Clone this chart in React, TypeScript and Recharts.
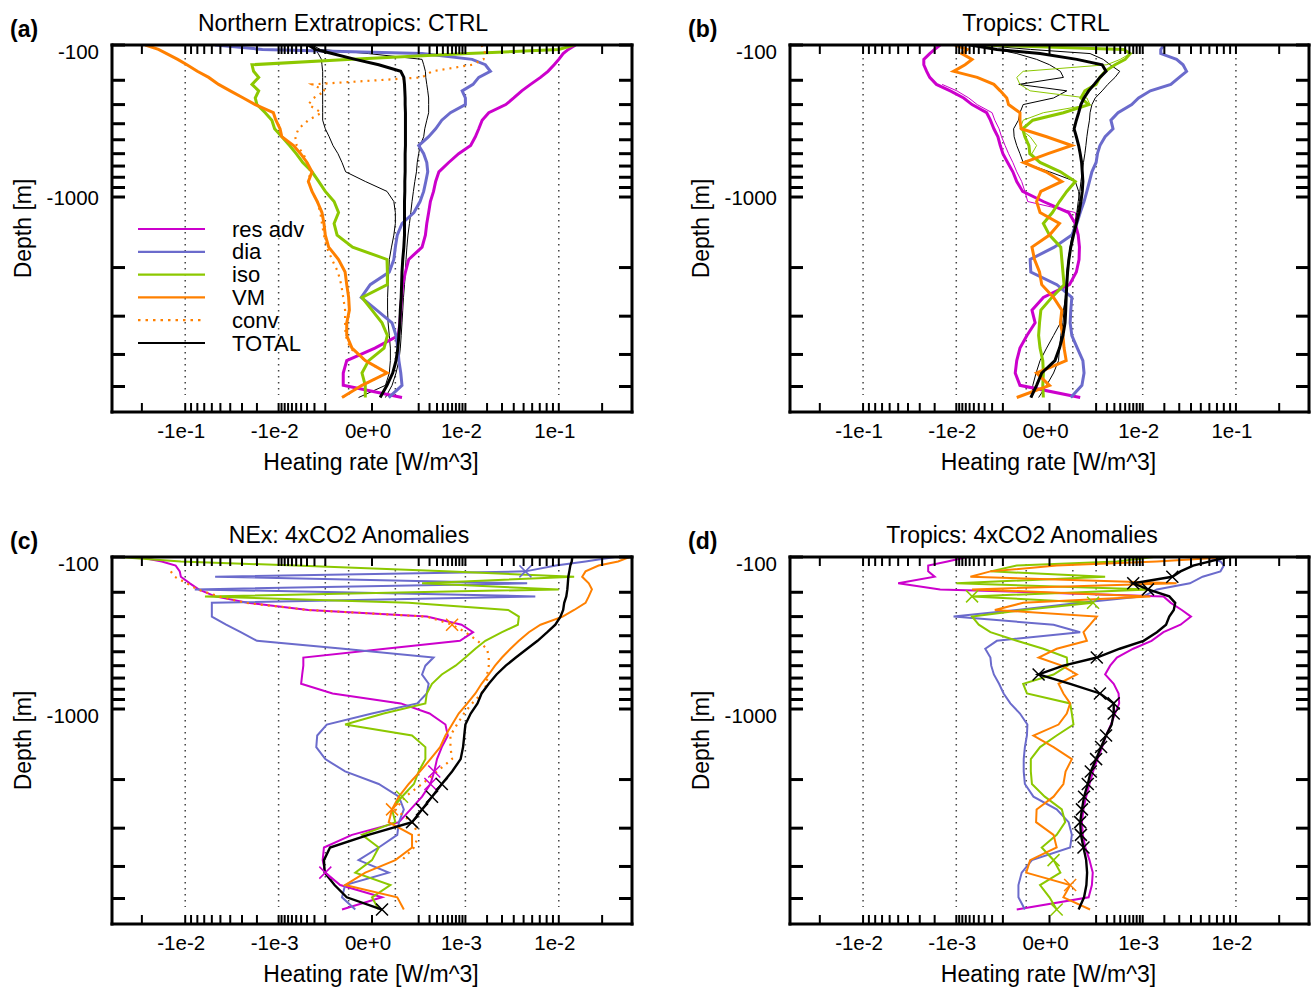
import React from 'react';
import { LineChart, Line, XAxis, YAxis, ReferenceLine } from 'recharts';

const FONT = '"Liberation Sans", Arial, Helvetica, sans-serif';
// both axes use a |v|^log10(2) stretch (one decade = factor 2 in distance)
const P = Math.log10(2);
const pw = (v: number | null | undefined) => (v == null ? null : Math.sign(v) * Math.pow(Math.abs(v), P));

// model levels [m]
const depths = [
  100, 110, 120, 135, 150, 170, 190, 215, 240, 270,
  300, 340, 380, 430, 480, 540, 600, 670, 750, 840,
  940, 1050, 1180, 1320, 1480, 1660, 1860, 2080, 2320, 2580,
  2860, 3160, 3480, 3820, 4180, 4560, 4960, 5380,
];
const depthTicks = [100, 200, 300, 400, 500, 600, 700, 800, 900, 1000, 2000, 3000, 4000, 5000];
const depthLabels = [{ v: 100, t: '-100' }, { v: 1000, t: '-1000' }];
const depthBottom = 5910;
const gridTop = 116;
const gridBottom = 5290;

const ctrlLabels = [
  { v: -0.1, t: '-1e-1' }, { v: -0.01, t: '-1e-2' }, { v: 0, t: '0e+0' }, { v: 0.01, t: '1e-2' }, { v: 0.1, t: '1e-1' },
];
const anomLabels = [
  { v: -0.01, t: '-1e-2' }, { v: -0.001, t: '-1e-3' }, { v: 0, t: '0e+0' }, { v: 0.001, t: '1e-3' }, { v: 0.01, t: '1e-2' },
];
const mantissas = [1, 2, 3, 4, 5, 6, 7, 8, 9];
const gridValues = [-1e-1, -1e-2, -1e-3, -1e-4, 1e-4, 1e-3, 1e-2, 1e-1];

const C_RES = '#cc00cc';
const C_DIA = '#6b6bcc';
const C_ISO = '#8cc800';
const C_VM = '#ff8000';
const C_TOT = '#000000';

// ---- (a) Northern Extratropics: CTRL  [W/m^3]
const aResAdv = [
  0.133, 0.118, 0.108, 0.1, 0.092, 0.082, 0.071, 0.058, 0.048, 0.04,
  0.033, 0.021, 0.0173, 0.0156, 0.014, 0.012, 0.0078, 0.0052, 0.0033, 0.0028,
  0.0025, 0.0021, 0.0019, 0.0017, 0.00156, 0.00126, 0.00045, 0.00033, 0.00025, 0.00022,
  0.0002, 0.00018, 0.00015, 0.0000001, -0.00013, -0.0002, -0.0002, 0.00023,
];
const aDia = [
  -0.056, -0.017, 0.00126, 0.0126, 0.019, 0.022, 0.0156, 0.013, 0.0089, 0.01,
  0.01, 0.0056, 0.0038, 0.0028, 0.0019, 0.001, 0.0014, 0.0017, 0.0018, 0.0016,
  0.0014, 0.0011, 0.0007, 0.00023, 0.00013, 0.0001, 0.00008, 0.000037, -0.00000002, -0.0000076,
  0.0000005, 0.00006, 0.00011, 0.00014, 0.00016, 0.0002, 0.00023, 0.000033,
];
const aIso = [
  0.13, 0.1, 0.011, -0.00006, -0.023, -0.022, -0.019, -0.023, -0.019, -0.021,
  -0.02, -0.0156, -0.0126, -0.0115, -0.0089, -0.0066, -0.005, -0.0037, -0.0023, -0.00156,
  -0.001, -0.0005, -0.00033, -0.0005, -0.00038, -0.000054, 0.000023, 0.000025, 0.000025, -0.000006,
  0, 0.000006, 0.000025, 0.000011, -0.00000016, -0.000006, -0.0000016, -0.0000016,
];
const aVm = [
  -0.19, -0.156, -0.137, -0.114, -0.097, -0.08, -0.064, -0.052, -0.04, -0.029,
  -0.021, -0.012, -0.011, -0.0095, -0.0089, -0.0056, -0.0041, -0.003, -0.0023, -0.0028,
  -0.0023, -0.0017, -0.00126, -0.0011, -0.001, -0.00078, -0.00033, -0.00016, -0.00013, -0.0001,
  -0.00009, -0.00013, -0.00013, -0.00006, -0.0000016, 0.000023, -0.000006, -0.00023,
];
const aConv = [
  0.017, 0.018, 0.019, 0.018, 0.0126, 0.0023, 0.00126, -0.0023, -0.001, -0.0021,
  -0.0028, -0.0013, -0.0028, -0.0045, -0.0052, -0.0049, -0.0036, -0.003, -0.0025, -0.0028,
  -0.0023, -0.0017, -0.0014, -0.00126, -0.0011, -0.0009, -0.0006, -0.00035, -0.00025, -0.0002,
  -0.00016, -0.00016, -0.00015, -0.00008, -0.0000016, 0.000023, -0.000006, -0.00023,
];
const aTotal = [
  -0.0028, -0.0019, -0.0006, -0.000033, 0.0000016, 0.0002, 0.00028, 0.0003, 0.00031, 0.00032,
  0.00032, 0.00033, 0.00033, 0.00033, 0.00033, 0.00033, 0.00032, 0.00032, 0.00032, 0.00031,
  0.00031, 0.0003, 0.0003, 0.0003, 0.0003, 0.00028, 0.00025, 0.00023, 0.00022, 0.00021,
  0.00019, 0.00018, 0.00016, 0.00014, 0.00011, 0.000067, 0.000023, 0.000003,
];
const aTotalThin1 = [
  -0.0023, -0.0019, -0.0016, -0.0013, -0.00126, -0.0012, -0.0012, -0.0012, -0.0012, -0.0012,
  -0.0012, -0.0012, -0.0012, -0.001, -0.00075, -0.00055, -0.00035, -0.00023, -0.00015, -0.0000016,
  0.000023, 0.00008, 0.0001, 0.0001, 0.00008, 0.000055, 0.000037, 0.000033, 0.000029, 0.000026,
  0.000026, 0.000029, 0.000037, 0.000045, 0.000045, 0.000037, 0.000016, -0.000016,
];
const aTotalThin2 = [
  -0.0023, -0.0014, -0.0000002, 0.00126, 0.0014, 0.00156, 0.0016, 0.0017, 0.0018, 0.0019,
  0.0019, 0.0019, 0.0017, 0.0015, 0.0014, 0.0011, 0.001, 0.0009, 0.00085, 0.00075,
  0.00067, 0.0006, 0.00054, 0.00048, 0.00042, 0.00038, 0.00035, 0.00033, 0.0003, 0.00027,
  0.00025, 0.00023, 0.00021, 0.00019, 0.00016, 0.00011, 0.00006, 0.000016,
];

// ---- (b) Tropics: CTRL
const bResAdv = [
  -0.017, -0.02, -0.023, -0.027, -0.027, -0.025, -0.023, -0.019, -0.0123, -0.0076,
  -0.0054, -0.0027, -0.0022, -0.0018, -0.0014, -0.0012, -0.001, -0.0007, -0.00045, -0.00031,
  -0.00016, -0.0000012, 0.000052, 0.00014, 0.0002, 0.00023, 0.00022, 0.00016, 0.00006, -0.0000012,
  -0.000039, -0.00002, -0.00009, -0.00022, -0.00031, -0.00036, -0.00022, 0.00025,
];
const bResAdvThin = [
  null, null, null, null, null, null, null, -0.016, -0.0098, -0.0062,
  -0.0043, -0.002, -0.0017, -0.0013, -0.0011, -0.00085, -0.00065, -0.00045, -0.00031, -0.00018,
  -0.00012, -0.00008, 0.00014, 0.00017, null, null, null, null, null, null,
  null, null, null, null, null, null, null, null,
];
const bDia = [
  0.02, 0.018, 0.018, 0.028, 0.033, 0.036, 0.03, 0.024, 0.013, 0.0086,
  0.0066, 0.0036, 0.0025, 0.0028, 0.0018, 0.0013, 0.0011, 0.001, 0.00073, 0.0006,
  0.00048, 0.00037, 0.00025, 0.00017, 0.000087, 0.0000005, -0.000054, -0.000048, 0.0000022, 0.000087,
  0.000074, 0.000067, 0.000087, 0.00018, 0.00033, 0.00037, 0.0003, 0.000074,
];
const bIso = [
  -0.0033, 0.0047, 0.0062, 0.005, 0.0031, 0.0018, 0.0013, 0.001, 0.0004, 0.00027,
  0.00056, 0.000018, -0.000033, -0.00016, -0.00012, -0.000066, -0.000057, -0.000005, 0.000008, 0.00014,
  0.000037, 0.000006, 0.0000001, -0.0000012, 0, 0.000009, 0.000012, 0.000016, 0.000021, 0.00000005,
  -0.0000037, -0.000006, -0.000008, -0.000005, -0.0000016, -0.0000012, -0.0000016, -0.0000012,
];
const bIsoThin = [
  -0.0033, 0.0047, 0.0062, 0.004, 0.002, -0.00015, -0.00031, -0.00022, -0.000054, 0.00048,
  0.00063, -0.0000012, -0.00015, -0.00022, -0.000054, -0.000014, -0.000039, -0.000005, null, null,
  null, null, null, null, null, null, null, null, null, null,
  null, null, null, null, null, null, null, null,
];
const bVm = [
  -0.0105, -0.0066, -0.0082, -0.0054, -0.0072, -0.011, -0.0043, -0.0018, -0.0012, -0.00075,
  -0.00065, -0.00022, -0.00022, -0.00019, -0.0000001, 0.000087, -0.00000001, -0.00014, -0.0000002, 0.000012,
  -0.0000037, -0.000014, -0.000005, 0.000006, 0, -0.000039, -0.000023, -0.000006, -0.0000026, 0.0000003,
  0.000012, 0.000008, 0.000016, 0.000021, 0.000033, -0.000014, 0, -0.00031,
];
const bTotal = [
  -0.0058, -0.0015, -0.000005, 0.00017, 0.0015, 0.0019, 0.0013, 0.00087, 0.00056, 0.00037,
  0.00027, 0.00021, 0.00016, 0.00012, 0.00016, 0.00021, 0.00025, 0.00029, 0.00031, 0.00033,
  0.00031, 0.00027, 0.00022, 0.00016, 0.00011, 0.000074, 0.000054, 0.000043, 0.000037, 0.000033,
  0.00003, 0.000026, 0.000016, 0.000006, 0.0000008, -0.0000026, -0.000014, -0.000048,
];
const bTotalThin1 = [
  -0.0043, -0.00005, 0.00063, 0.0016, 0.0024, 0.0039, 0.0031, 0.0021, 0.0015, 0.00094,
  0.00073, 0.00063, 0.0006, 0.00053, 0.00048, 0.00044, 0.0004, 0.00035, 0.00031, 0.00027,
  0.00024, 0.0002, 0.00017, 0.000125, 0.00009, 0.000067, 0.00005, 0.000037, 0.000033, 0.000027,
  0.000021, 0.000016, 0.000009, 0.000006, 0.0000043, 0.0000003, -0.0000001, -0.000008,
];
const bTotalThin2 = [
  -0.0058, -0.0015, -0.00031, -0.000014, 0, 0.000008, 0.000018, -0.00025, 0.000037, 0.0000003,
  -0.00015, -0.00022, -0.00026, -0.00042, -0.0004, -0.00031, -0.00022, -0.00015, 0, 0.00014,
  0.00021, 0.00023, 0.00018, 0.00014, 0.0001, 0.000074, 0.000056, 0.000046, 0.000037, 0.00003,
  0.000018, 0.000008, 0.0000003, -0.0000001, -0.000005, -0.000016, -0.000033, -0.000039,
];

// ---- (c) NEx: 4xCO2 Anomalies
const cResAdv = [
  -0.021, -0.0148, -0.0118, -0.011, -0.0108, -0.0092, -0.0078, -0.0056, -0.0026, -0.00028,
  0.00017, 0.00087, 0.0013, 0.00082, 0.0000015, -0.00036, -0.00036, -0.00038, -0.0004, -0.000057,
  0.00002, 0.0002, 0.00045, 0.0005, 0.00038, 0.0003, 0.00026, 0.00021, 0.000126, 0.000053,
  0.000016, -0.000006, -0.00011, -0.00012, -0.0001, -0.000028, 0.0000006, -0.000023,
];
const cDia = [
  0.024, 0.0156, 0.0095, 0.0052, -0.0056, 0.0054, -0.0084, 0.0064, -0.006, -0.006,
  -0.006, -0.0044, -0.0031, -0.002, -0.00002, 0.00025, 0.000156, 0.000126, 0.00019, 0.00017,
  0.00009, 0, -0.00009, -0.00017, -0.00018, -0.0001, -0.000016, 0.00000016, 0.000016, 0.000028,
  0.000016, 0.000013, 0.00000016, -0.0000016, 0.0000033, -0.000016, -0.000023, -0.0000033,
];
const cIso = [
  -0.0275, -0.0108, -0.00052, 0.00045, 0.013, 0.000126, 0.01, -0.0069, 0.000045, 0.0035,
  0.0045, 0.0044, 0.003, 0.0019, 0.0014, 0.001, 0.00069, 0.00038, 0.00023, 0.00017,
  0.000156, 0.000001, -0.000016, 0.00006, 0.000156, 0.000156, 0.0001, 0.00007, 0.000023, 0.000006,
  0.00001, -0.0000006, 0.00000016, 0, -0.0000033, 0.0000045, 0, 0.00000016,
];
const cVm = [
  0.029, 0.025, 0.019, 0.0156, 0.0148, 0.0164, 0.0172, 0.0164, 0.0156, 0.013,
  0.0107, 0.0071, 0.0056, 0.0045, 0.0037, 0.003, 0.0025, 0.0021, 0.0017, 0.0014,
  0.00107, 0.00078, 0.0006, 0.00045, 0.00035, 0.00021, 0.00011, 0.000045, 0.000016, 0.000006,
  0.0000033, 0.00006, 0.00006, 0.00001, -0.00000016, -0.000016, 0.000013, 0.000028,
];
const cConv = [
  null, null, null, -0.0128, -0.012, -0.0097, -0.008, -0.0052, -0.00275, -0.00028,
  0.00017, 0.0006, 0.001, 0.0015, 0.002, 0.0021, 0.0021, 0.002, 0.002, 0.0017,
  0.00126, 0.00095, 0.00073, 0.00056, 0.00056, 0.0006, 0.0003, 0.000126, 0.000033, 0.00001,
  0.00006, 0.0001, 0.00007, 0.000023, null, null, null, null,
];
const cTotal = [
  0.0126, 0.0125, 0.0122, 0.012, 0.0118, 0.0117, 0.0116, 0.0114, 0.011, 0.0108,
  0.0103, 0.0094, 0.0081, 0.0067, 0.0054, 0.0042, 0.0033, 0.0026, 0.0021, 0.0017,
  0.0015, 0.0012, 0.001, 0.00096, 0.00092, 0.00084, 0.0006, 0.00038, 0.00023, 0.000126,
  0.00006, -0.00000002, -0.00007, -0.00011, -0.000105, -0.000048, -0.000013, 0.0000006,
];
// levels flagged with a cross
const cTotalMarks = [27, 28, 29, 30, 37];
const cResAdvMarks = [26, 27, 34];
const cVmMarks = [29];
const cConvMarks = [8];
const cDiaMarks = [3];
const cIsoMarks = [28];

// ---- (d) Tropics: 4xCO2 Anomalies
const dResAdv = [
  -0.00066, -0.00135, -0.0024, -0.0024, -0.002, -0.005, -0.0017, 0.00195, 0.0024, 0.0032,
  0.004, 0.0031, 0.00195, 0.00135, 0.0007, 0.00034, 0.00024, 0.00018, 0.00029, 0.00037,
  0.00038, 0.00031, 0.00025, 0.00019, 0.00015, 0.00011, 0.00008, 0.00006, 0.000045, 0.000035,
  0.00003, 0.000033, 0.000042, 0.00006, 0.000078, 0.000073, 0.000056, -0.000031,
];
const dDia = [
  0.0056, 0.0075, 0.008, 0.0075, 0.0052, 0.0039, 0.0016, 0.00103, 0.000025, -0.000031,
  -0.0011, 0.00000003, 0.000025, -0.00015, -0.00029, -0.00022, -0.00021, -0.00018, -0.00013, -0.000095,
  -0.000056, -0.000022, -0.0000084, -0.000009, -0.000012, -0.000014, -0.000014, -0.000012, -0.0000029, 0.0000002,
  0.0000052, 0.0000087, 0.0000067, -0.0000039, -0.000018, -0.000026, -0.000026, -0.000012,
];
const dIso = [
  0.00145, 0.00034, -0.000031, -0.00022, 0.00018, -0.001, 0.0013, -0.00054, 0.00008, -0.000015,
  -0.00054, -0.0004, -0.00022, -0.000031, -0.00000012, 0.0000037, 0.0000043, 0.00000003, -0.000015, -0.000009,
  0.0000067, 0.0000087, 0.000011, 0.0000002, -0.0000005, -0.0000048, -0.0000048, -0.0000039, -0.00000005, 0.0000012,
  0.0000027, 0.0000002, -0.00000026, 0.00000003, 0.0000008, -0.0000005, 0, 0.0000002,
];
const dVm = [
  0.0091, 0.0016, 0.0000002, -0.00022, -0.00058, 0.0028, -0.00054, 0.0013, -0.000015, -0.00017,
  0.000105, 0.000063, 0.000035, 0.000048, 0.0000002, -0.0000008, 0.0000012, 0.000017, 0.00000043, 0.0000018,
  0.0000067, 0.0000037, 0.00000043, -0.0000029, 0.00000003, 0.0000087, 0.0000029, 0.0000018, 0.00000003, -0.0000014,
  -0.0000016, 0.00000003, 0.0000002, -0.0000054, -0.00001, 0.0000067, 0.0000018, 0.000063,
];
const dTotal = [
  0.0086, 0.0061, 0.0042, 0.0031, 0.0025, 0.0007, 0.0012, 0.0023, 0.0027, 0.0026,
  0.0023, 0.0021, 0.0016, 0.00103, 0.00039, 0.000105, 0.0000018, -0.0000008, 0.0000067, 0.00013,
  0.00029, 0.00029, 0.00026, 0.00019, 0.00014, 0.0001, 0.000067, 0.000052, 0.000037, 0.00003,
  0.000025, 0.000027, 0.000035, 0.000045, 0.000049, 0.000046, 0.000037, 0.000021,
];
const dTotalMarks = [4, 5, 6, 15, 17, 19, 20, 21, 23, 24, 25, 26, 27, 28, 29, 30, 31, 32];
const dIsoMarks = [7, 8, 33, 37];
const dVmMarks = [35];

type Series = { key: string; data: (number | null)[]; color: string; width: number; dash?: string; marks?: number[] };
type Label = { v: number; t: string };

const PLOT_H = 367;
const TICK_FONT = 20.5;
const frame = { stroke: '#000', strokeWidth: 3, strokeLinecap: 'square' as const };

function heatTicks(scale: number) {
  const pos = [
    ...mantissas.map((m) => m * 1e-3 * scale),
    ...mantissas.map((m) => m * 1e-2 * scale),
    0.1 * scale,
    0.2 * scale,
  ];
  return [...pos.map((v) => -v).reverse(), 0, ...pos];
}

const same = (a: number, b: number) => Math.abs(a - b) < 1e-9;

function xTick(labels: Label[], side: 'top' | 'bottom') {
  return (p: any) => {
    const { x, y, payload } = p;
    const lab = side === 'bottom' ? labels.find((l) => same(pw(l.v)!, payload.value)) : undefined;
    const y2 = side === 'bottom' ? y - 9 : y + 9;
    return (
      <g>
        <line x1={x} y1={y} x2={x} y2={y2} stroke="#000" strokeWidth={2} />
        {lab && (
          <text x={x - 4} y={y + 26} textAnchor="middle" fontSize={TICK_FONT} fontFamily={FONT} fill="#000">
            {lab.t}
          </text>
        )}
      </g>
    );
  };
}

function yTick(side: 'left' | 'right', top: number) {
  return (p: any) => {
    const { x, y, payload } = p;
    const lab = side === 'left' ? depthLabels.find((l) => same(pw(l.v)!, payload.value)) : undefined;
    const x2 = side === 'left' ? x + 13 : x - 13;
    return (
      <g>
        <line x1={x} y1={y} x2={x2} y2={y} stroke="#000" strokeWidth={3} />
        {lab && (
          <text x={x - 13} y={y < top + 5 ? y + 14 : y + 8} textAnchor="end" fontSize={TICK_FONT} fontFamily={FONT} fill="#000">
            {lab.t}
          </text>
        )}
      </g>
    );
  };
}

function crossDot(color: string, marks: number[]) {
  return (p: any) => {
    const { cx, cy, index } = p;
    if (!marks.includes(index) || cx == null || cy == null) return <g key={`n${index}`} />;
    const r = 6;
    return (
      <path
        key={`m${index}`}
        d={`M${cx - r},${cy - r}L${cx + r},${cy + r}M${cx - r},${cy + r}L${cx + r},${cy - r}`}
        stroke={color}
        strokeWidth={1.5}
        fill="none"
      />
    );
  };
}

function Panel({ x, y, w, scale, labels, series }: { x: number; y: number; w: number; scale: number; labels: Label[]; series: Series[] }) {
  const xMax = pw(0.3 * scale)!;
  const rows = depths.map((d, i) => {
    const r: Record<string, number | null> = { y: pw(d) };
    series.forEach((s) => {
      r[s.key] = pw(s.data[i]);
    });
    return r;
  });
  const ticks = heatTicks(scale).map((v) => pw(v)!);
  const yDomain = [pw(100)!, pw(depthBottom)!];
  const yTicks = depthTicks.map((d) => pw(d)!);
  // axes are 1px thick so they get drawn; margins absorb that pixel
  return (
    <div style={{ position: 'absolute', left: x - 112, top: y - 45 }}>
      <LineChart
        width={112 + w + 3}
        height={45 + PLOT_H + 40}
        data={rows}
        layout="vertical"
        margin={{ top: 44, left: 111, right: 2, bottom: 39 }}
      >
        <XAxis xAxisId="b" type="number" domain={[-xMax, xMax]} ticks={ticks} interval={0} allowDataOverflow
          height={1} tickSize={0} tickMargin={0} tickLine={false} axisLine={frame} tick={xTick(labels, 'bottom')} />
        <XAxis xAxisId="t" orientation="top" type="number" domain={[-xMax, xMax]} ticks={ticks} interval={0} allowDataOverflow
          height={1} tickSize={0} tickMargin={0} tickLine={false} axisLine={frame} tick={xTick(labels, 'top')} />
        <YAxis yAxisId="l" type="number" dataKey="y" domain={yDomain} ticks={yTicks} interval={0} allowDataOverflow
          width={1} tickSize={0} tickMargin={0} tickLine={false} axisLine={frame} tick={yTick('left', y)} />
        <YAxis yAxisId="r" orientation="right" type="number" dataKey="y" domain={yDomain} ticks={yTicks} interval={0} allowDataOverflow
          width={1} tickSize={0} tickMargin={0} tickLine={false} axisLine={frame} tick={yTick('right', y)} />
        {gridValues.map((g) => (
          <ReferenceLine
            key={`g${g}`}
            xAxisId="b"
            yAxisId="l"
            segment={[{ x: pw(g * scale)!, y: pw(gridTop)! }, { x: pw(g * scale)!, y: pw(gridBottom)! }]}
            stroke="#444"
            strokeWidth={1.5}
            strokeDasharray="1.5 4.5"
          />
        ))}
        {series.map((s) => (
          <Line
            key={s.key}
            xAxisId="b"
            yAxisId="l"
            dataKey={s.key}
            type="linear"
            stroke={s.color}
            strokeWidth={s.width}
            strokeDasharray={s.dash}
            dot={s.marks ? crossDot(s.color, s.marks) : false}
            activeDot={false}
            isAnimationActive={false}
          />
        ))}
      </LineChart>
    </div>
  );
}

const THICK = 3;
const seriesA: Series[] = [
  { key: 'totA1', data: aTotalThin1, color: C_TOT, width: 1 },
  { key: 'totA2', data: aTotalThin2, color: C_TOT, width: 1 },
  { key: 'res', data: aResAdv, color: C_RES, width: THICK },
  { key: 'dia', data: aDia, color: C_DIA, width: THICK },
  { key: 'iso', data: aIso, color: C_ISO, width: THICK },
  { key: 'vm', data: aVm, color: C_VM, width: THICK },
  { key: 'conv', data: aConv, color: C_VM, width: 2.2, dash: '2 5' },
  { key: 'tot', data: aTotal, color: C_TOT, width: THICK },
];
const seriesB: Series[] = [
  { key: 'totB1', data: bTotalThin1, color: C_TOT, width: 1 },
  { key: 'totB2', data: bTotalThin2, color: C_TOT, width: 1 },
  { key: 'isoB', data: bIsoThin, color: C_ISO, width: 1 },
  { key: 'resB', data: bResAdvThin, color: C_RES, width: 1 },
  { key: 'res', data: bResAdv, color: C_RES, width: THICK },
  { key: 'dia', data: bDia, color: C_DIA, width: THICK },
  { key: 'iso', data: bIso, color: C_ISO, width: THICK },
  { key: 'vm', data: bVm, color: C_VM, width: THICK },
  { key: 'tot', data: bTotal, color: C_TOT, width: THICK },
];
const seriesC: Series[] = [
  { key: 'res', data: cResAdv, color: C_RES, width: 2, marks: cResAdvMarks },
  { key: 'dia', data: cDia, color: C_DIA, width: 2, marks: cDiaMarks },
  { key: 'iso', data: cIso, color: C_ISO, width: 2, marks: cIsoMarks },
  { key: 'vm', data: cVm, color: C_VM, width: 2, marks: cVmMarks },
  { key: 'conv', data: cConv, color: C_VM, width: 2.2, dash: '2 5', marks: cConvMarks },
  { key: 'tot', data: cTotal, color: C_TOT, width: 2.4, marks: cTotalMarks },
];
const seriesD: Series[] = [
  { key: 'res', data: dResAdv, color: C_RES, width: 2 },
  { key: 'dia', data: dDia, color: C_DIA, width: 2 },
  { key: 'iso', data: dIso, color: C_ISO, width: 2, marks: dIsoMarks },
  { key: 'vm', data: dVm, color: C_VM, width: 2, marks: dVmMarks },
  { key: 'tot', data: dTotal, color: C_TOT, width: 2.4, marks: dTotalMarks },
];

const legendItems = [
  { name: 'res adv', color: C_RES },
  { name: 'dia', color: C_DIA },
  { name: 'iso', color: C_ISO },
  { name: 'VM', color: C_VM },
  { name: 'conv', color: C_VM, dash: '2.5 5' },
  { name: 'TOTAL', color: C_TOT },
];

const panels = [
  { id: '(a)', title: 'Northern Extratropics: CTRL', titleX: 343, x: 112, y: 45, w: 520 },
  { id: '(b)', title: 'Tropics: CTRL', titleX: 1036, x: 790, y: 45, w: 519 },
  { id: '(c)', title: 'NEx: 4xCO2 Anomalies', titleX: 349, x: 112, y: 557, w: 520 },
  { id: '(d)', title: 'Tropics: 4xCO2 Anomalies', titleX: 1022, x: 790, y: 557, w: 519 },
];

function Overlay() {
  return (
    <svg width={1312} height={988} style={{ position: 'absolute', left: 0, top: 0, pointerEvents: 'none' }} fontFamily={FONT}>
      {panels.map((p) => (
        <g key={p.id}>
          <text x={p.x - 102} y={p.y - 8} fontSize={23} fontWeight="bold" fill="#000">{p.id}</text>
          <text x={p.titleX} y={p.y - 14} fontSize={23} textAnchor="middle" fill="#000">{p.title}</text>
          <text x={p.x + p.w / 2 - 1} y={p.y + PLOT_H + 58} fontSize={23} textAnchor="middle" fill="#000">Heating rate [W/m^3]</text>
          <text
            x={p.x - 81}
            y={p.y + PLOT_H / 2}
            fontSize={23}
            textAnchor="middle"
            fill="#000"
            transform={`rotate(-90 ${p.x - 81} ${p.y + PLOT_H / 2})`}
          >
            Depth [m]
          </text>
        </g>
      ))}
      {legendItems.map((it, i) => {
        const ly = 229 + i * 22.8;
        return (
          <g key={it.name}>
            <line x1={138} y1={ly} x2={205} y2={ly} stroke={it.color} strokeWidth={2.2} strokeDasharray={it.dash} />
            <text x={232} y={ly + 7.5} fontSize={22} fill="#000">{it.name}</text>
          </g>
        );
      })}
    </svg>
  );
}

export default function App() {
  return (
    <div style={{ position: 'absolute', left: 0, top: 0, width: 1312, height: 988, overflow: 'hidden', background: '#fff', fontFamily: FONT }}>
      <Panel x={112} y={45} w={520} scale={1} labels={ctrlLabels} series={seriesA} />
      <Panel x={790} y={45} w={519} scale={1} labels={ctrlLabels} series={seriesB} />
      <Panel x={112} y={557} w={520} scale={0.1} labels={anomLabels} series={seriesC} />
      <Panel x={790} y={557} w={519} scale={0.1} labels={anomLabels} series={seriesD} />
      <Overlay />
    </div>
  );
}
